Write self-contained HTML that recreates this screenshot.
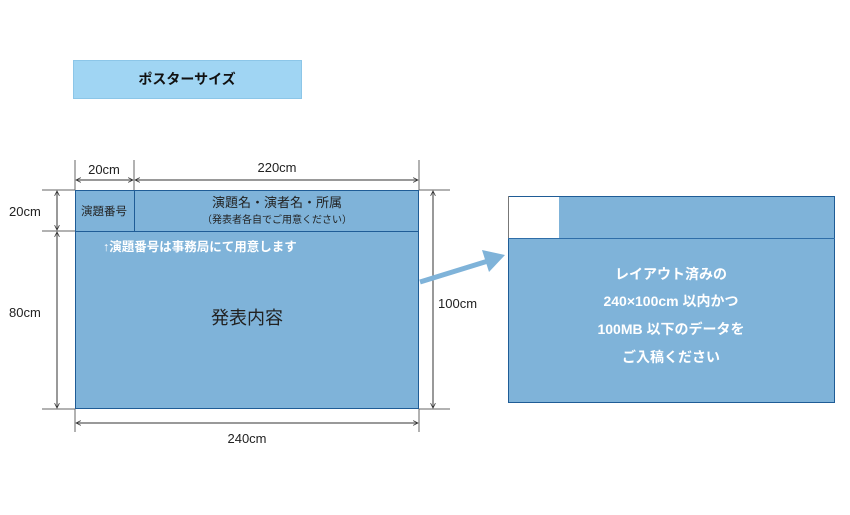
<!DOCTYPE html>
<html><head><meta charset="utf-8"><style>
body{margin:0;background:#fff}
svg{display:block;font-family:"Liberation Sans","Noto Sans CJK JP",sans-serif}
</style></head><body>
<svg width="850" height="515" viewBox="0 0 850 515">
<defs>
<marker id="a" viewBox="0 0 10 10" refX="9" refY="5" markerWidth="6" markerHeight="6" orient="auto-start-reverse"><path d="M1,1 L9,5 L1,9" fill="none" stroke="#333" stroke-width="1.3"/></marker>
</defs>
<rect x="73.5" y="60.5" width="228" height="38" fill="#a0d5f3" stroke="#8cc6e8"/>
<text x="187" y="84" font-size="14" font-weight="bold" text-anchor="middle" fill="#111">ポスターサイズ</text>

<g stroke="#666" stroke-width="1">
<line x1="75" y1="160" x2="75" y2="190"/><line x1="134" y1="160" x2="134" y2="190"/><line x1="419" y1="160" x2="419" y2="190"/>
<line x1="42" y1="190" x2="75" y2="190"/><line x1="42" y1="231" x2="75" y2="231"/><line x1="42" y1="409" x2="75" y2="409"/>
<line x1="419" y1="190" x2="450" y2="190"/><line x1="419" y1="409" x2="450" y2="409"/>
<line x1="75" y1="409" x2="75" y2="432"/><line x1="419" y1="409" x2="419" y2="432"/>
</g>
<g stroke="#333" stroke-width="1" marker-start="url(#a)" marker-end="url(#a)">
<line x1="76" y1="180" x2="133" y2="180"/><line x1="135" y1="180" x2="418" y2="180"/>
<line x1="57" y1="191" x2="57" y2="230"/><line x1="57" y1="232" x2="57" y2="408"/>
<line x1="433" y1="191" x2="433" y2="408"/>
<line x1="76" y1="423" x2="418" y2="423"/>
</g>
<g font-size="13" fill="#222">
<text x="104" y="174" text-anchor="middle">20cm</text>
<text x="277" y="172" text-anchor="middle">220cm</text>
<text x="9" y="216">20cm</text>
<text x="9" y="317">80cm</text>
<text x="438" y="308">100cm</text>
<text x="247" y="443" text-anchor="middle">240cm</text>
</g>

<rect x="75.5" y="190.5" width="343" height="218" fill="#7fb3d9" stroke="#1f5c96"/>
<line x1="75" y1="231.5" x2="419" y2="231.5" stroke="#1f5c96"/>
<line x1="134.5" y1="190" x2="134.5" y2="231" stroke="#1f5c96"/>
<text x="104" y="215" font-size="11.5" text-anchor="middle" fill="#222">演題番号</text>
<text x="277" y="207" font-size="13" text-anchor="middle" fill="#222">演題名・演者名・所属</text>
<text x="277" y="223" font-size="10" text-anchor="middle" fill="#222">（発表者各自でご用意ください）</text>
<text x="103" y="251" font-size="12.5" font-weight="bold" fill="#fff">↑演題番号は事務局にて用意します</text>
<text x="247" y="324" font-size="18" text-anchor="middle" fill="#222">発表内容</text>

<line x1="420" y1="282" x2="488" y2="261" stroke="#7fb3d9" stroke-width="5"/>
<polygon points="505,255 482,250 489,272" fill="#7fb3d9"/>

<rect x="508.5" y="196.5" width="326" height="206" fill="#7fb3d9" stroke="#1f5c96"/>
<rect x="509" y="197" width="50" height="41" fill="#fff"/>
<line x1="508.5" y1="196" x2="508.5" y2="238" stroke="#777"/>
<line x1="508" y1="238.5" x2="835" y2="238.5" stroke="#2f6ea8"/>
<g font-size="14" font-weight="bold" fill="#fff" text-anchor="middle">
<text x="671" y="279">レイアウト済みの</text>
<text x="671" y="306">240×100cm 以内かつ</text>
<text x="671" y="334">100MB 以下のデータを</text>
<text x="671" y="362">ご入稿ください</text>
</g>
</svg>
</body></html>
